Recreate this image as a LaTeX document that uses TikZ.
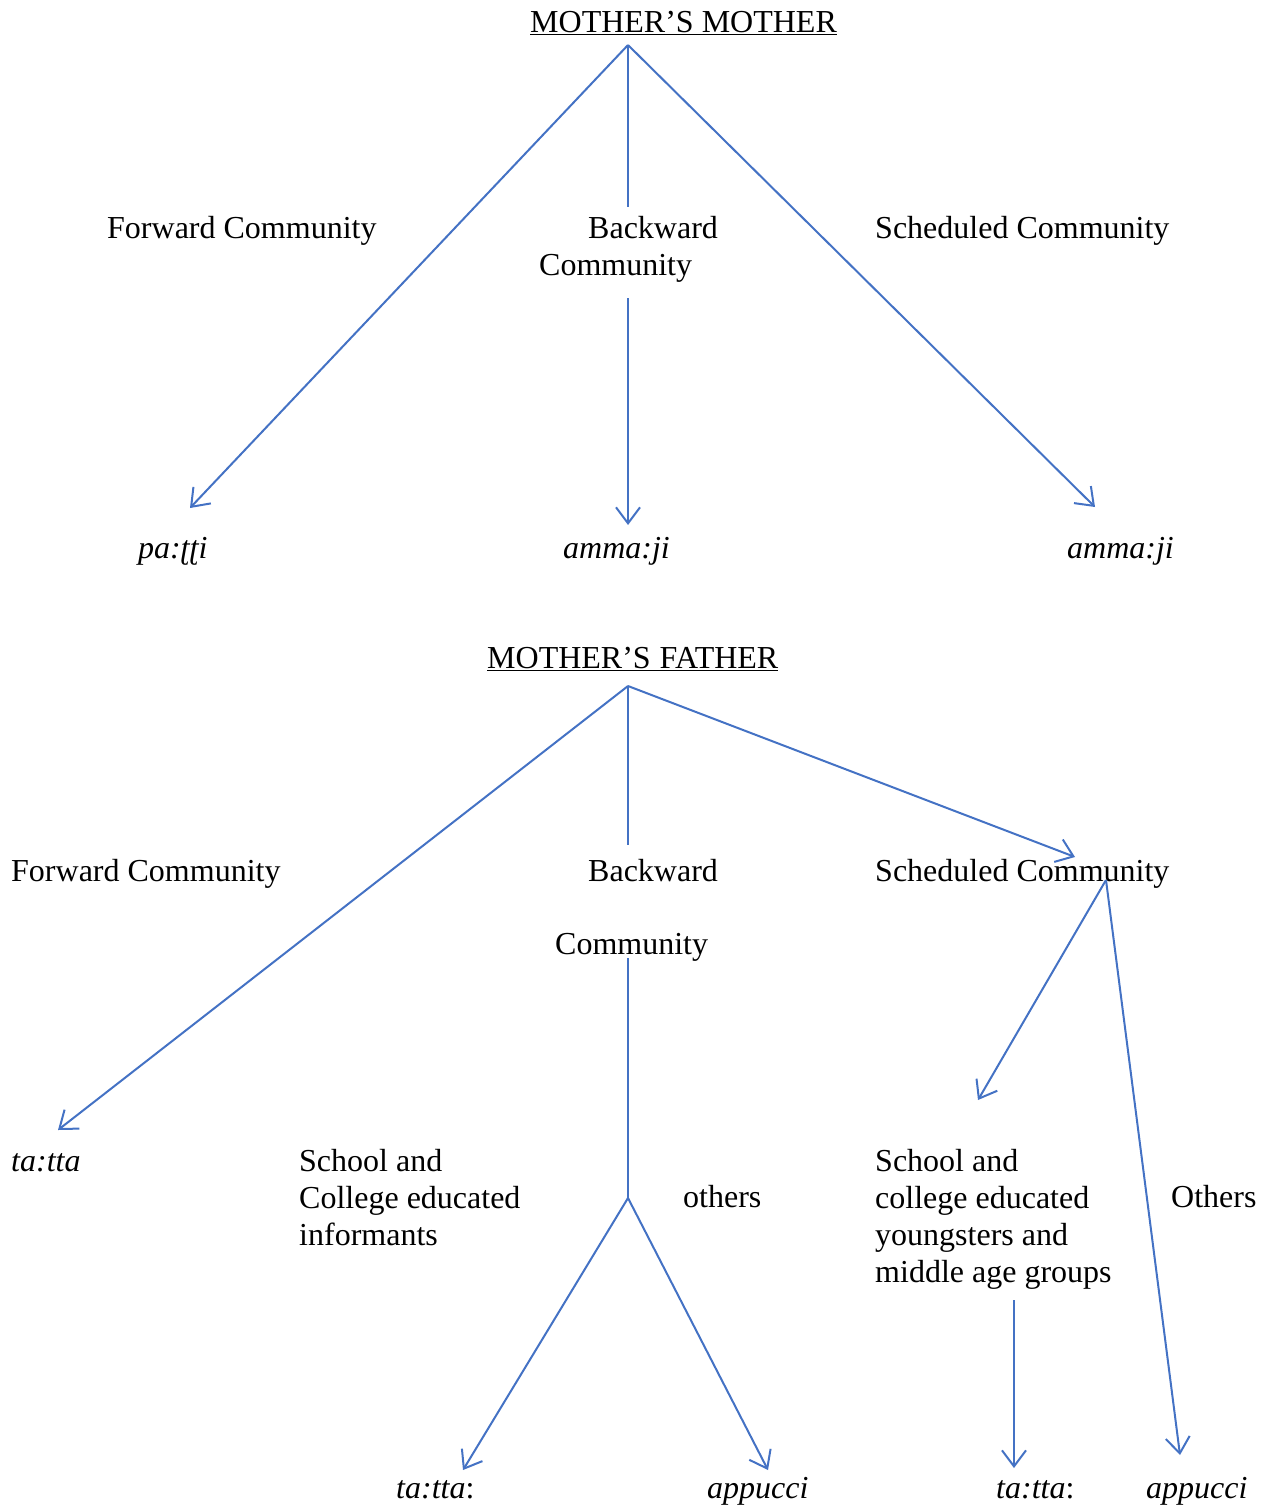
\documentclass[tikz,border=0pt]{standalone}
\usepackage{fontspec}
\setmainfont{Liberation Serif}
\usetikzlibrary{arrows.meta}
\definecolor{linkblue}{RGB}{68,114,196}
\begin{document}
\begin{tikzpicture}[x=1pt,y=-1pt,
  lbl/.style={anchor=base west,inner sep=0pt,font=\fontsize{32}{37}\selectfont,align=left},
  link/.style={draw=linkblue,line width=2pt},
  arr/.style={link,-{Straight Barb[length=16pt,width=24pt,line width=2pt]}}]
\useasboundingbox (0,0) rectangle (1267,1505);

% ---- Mother's mother ----
\node[lbl] (mm) at (530,32) {\underline{MOTHER’S MOTHER}};
\coordinate (mmApex) at (628,45);
\node[lbl] (fc1) at (107,238) {Forward Community};
\node[lbl] (bc1a) at (588,238) {Backward};
\node[lbl] (bc1b) at (539,275) {Community};
\node[lbl] (sc1) at (875,238) {Scheduled Community};
\node[lbl] (pat) at (138,558) {\textit{pa:ʈʈi}};
\node[lbl] (am1) at (563,558) {\textit{amma:ji}};
\node[lbl] (am2) at (1067,558) {\textit{amma:ji}};

\coordinate (mmL) at (190,508);
\coordinate (mmMa) at (628,207);
\coordinate (mmMb) at (628,298);
\coordinate (mmMc) at (628,525);
\coordinate (mmR) at (1095,507);
\draw[arr] (mmApex) -- (mmL);
\draw[link] (mmApex) -- (mmMa);
\draw[arr] (mmMb) -- (mmMc);
\draw[arr] (mmApex) -- (mmR);

% ---- Mother's father ----
\node[lbl] (mf) at (487,668) {\underline{MOTHER’S\kern1pt\ FATHER}};
\coordinate (mfApex) at (628,686);
\node[lbl] (fc2) at (11,881) {Forward Community};
\node[lbl] (bc2a) at (588,881) {Backward};
\node[lbl] (bc2b) at (555,954) {Community};
\node[lbl] (sc2) at (875,881) {Scheduled Community};
\node[lbl] (tt1) at (11,1171) {\textit{ta:tta}};
% multi-line labels: the base anchor sits on the last line
\node[lbl] (sce) at (299,1245) {School and\\College educated\\informants};
\node[lbl] (oth1) at (683,1207) {others};
\node[lbl] (scy) at (875,1282) {School and\\college educated\\youngsters and\\middle age groups};
\node[lbl] (oth2) at (1171,1207) {Others};
\node[lbl] (tt2) at (396,1498) {\textit{ta:tta}:};
\node[lbl] (ap1) at (707,1498) {\textit{appucci}};
\node[lbl] (tt3) at (996,1498) {\textit{ta:tta}:};
\node[lbl] (ap2) at (1146,1498) {\textit{appucci}};

\coordinate (mfL) at (58,1130);
\coordinate (mfM) at (628,845);
\coordinate (mfR) at (1075,857);
\draw[arr] (mfApex) -- (mfL);
\draw[link] (mfApex) -- (mfM);
\draw[arr] (mfApex) -- (mfR);

\coordinate (bcTop) at (628,958);
\coordinate (bcFork) at (628,1198);
\coordinate (bcL) at (463,1470);
\coordinate (bcR) at (768,1470);
\draw[link] (bcTop) -- (bcFork);
\draw[arr] (bcFork) -- (bcL);
\draw[arr] (bcFork) -- (bcR);

\coordinate (scFork) at (1106,880);
\coordinate (scL) at (978,1100);
\coordinate (scR) at (1180,1455);
\draw[arr] (scFork) -- (scL);
\draw[arr] (scFork) -- (scR);

\coordinate (scyTop) at (1014,1300);
\coordinate (scyEnd) at (1014,1468);
\draw[arr] (scyTop) -- (scyEnd);
\end{tikzpicture}
\end{document}
